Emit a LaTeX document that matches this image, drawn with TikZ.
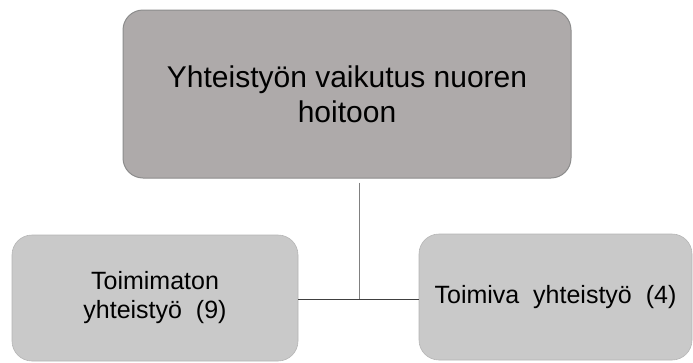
\documentclass[tikz,border=0pt]{standalone}
\usepackage{fontspec}
\setmainfont{Liberation Sans}
\usetikzlibrary{positioning}
\definecolor{topgray}{HTML}{AEAAAA}
\definecolor{subgray}{HTML}{C9C9C9}
\definecolor{edgegray}{HTML}{8C8C8C}
\definecolor{linegray}{HTML}{808080}
\definecolor{linedark}{HTML}{404040}
\tikzset{
  every picture/.style = {
    x = 1pt,
    y = -1pt,
  }
  ,
  topic/.style = {
    rectangle,
    rounded corners = 20pt,
    fill = topgray,
    draw = edgegray,
    line width = 1pt,
    align = center,
    font = \fontsize{30}{35}\selectfont,
    minimum width = 448pt,
    minimum height = 168pt
  }
  , % the two result boxes
  subtopic/.style = {
    rectangle,
    rounded corners = 20pt,
    fill = subgray,
    draw = subgray!90!black,
    line width = 0.6pt,
    align = center,
    font = \fontsize{25}{29}\selectfont,
    minimum height = 126pt
  }
  ,
  link/.style = {
    line width = 1pt,
    draw = linegray
  }
}
\begin{document}
\begin{tikzpicture}
\useasboundingbox (0,0) rectangle (693,362);
\node[topic] at (347,94) (impact) {Yhteistyön vaikutus nuoren\\hoitoon};
\node[subtopic, minimum width = 286pt] at (155,298) (poor) {Toimimaton\\yhteistyö\ \ (9)};
\node[subtopic, minimum width = 273pt] at (555.5,297) (good) {Toimiva\ \ yhteistyö\ \ (4)};
\coordinate (split) at (359,299);
\draw[link, shorten <= 4pt] (split |- impact.south) -- (split);
\draw[link, draw = linedark] (poor.east |- split) -- (good.west |- split);
\end{tikzpicture}
\end{document}
